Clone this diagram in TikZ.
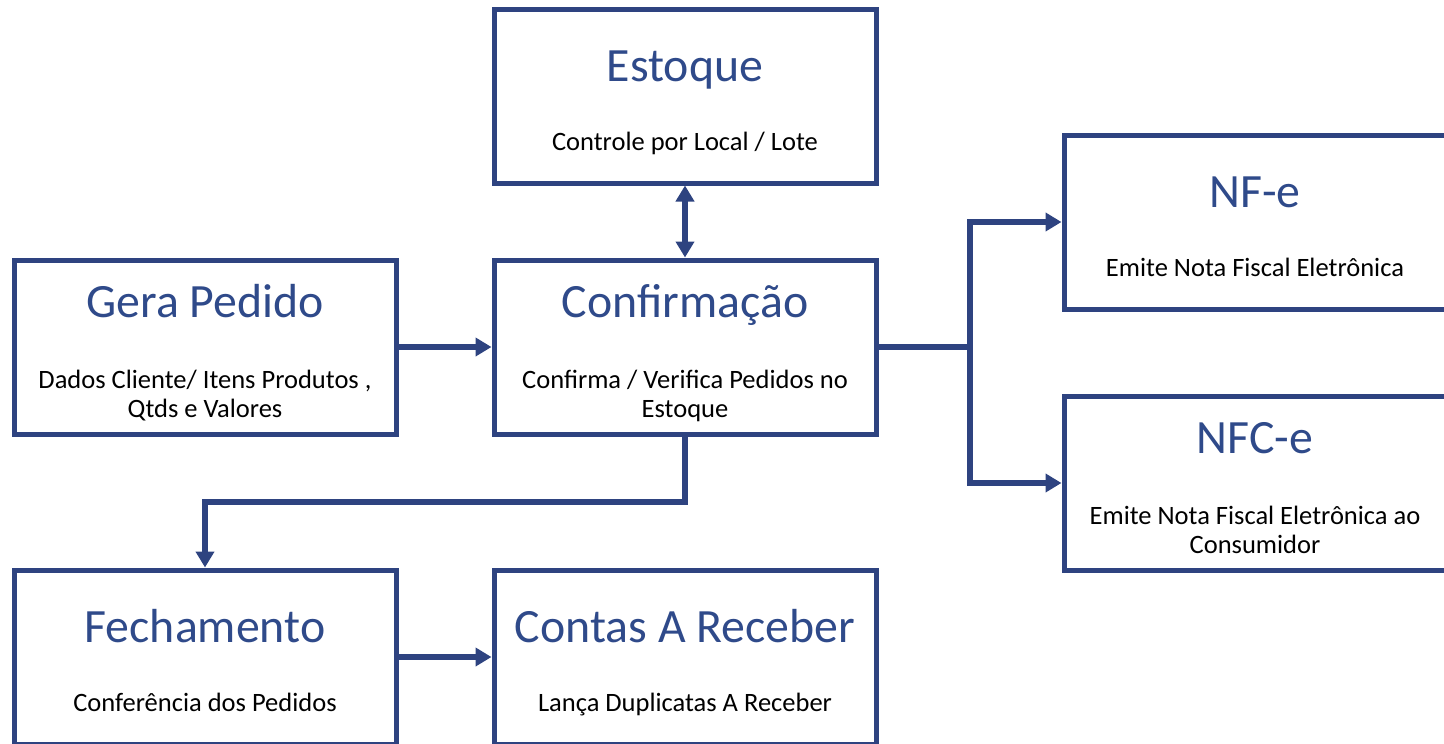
\documentclass[tikz,border=0pt]{standalone}
\usepackage{fontspec}
\setmainfont{Carlito}
\usetikzlibrary{arrows.meta,calc}
\definecolor{lineblue}{RGB}{46,67,128}
\definecolor{titleblue}{RGB}{47,74,138}
\begin{document}
\begin{tikzpicture}[x=1pt,y=-1pt,
  box/.style={draw=lineblue,line width=5pt,minimum width=382pt,minimum height=174pt,inner sep=0pt},
  ttl/.style={font=\fontsize{47.8}{56}\selectfont,text=titleblue,anchor=base,inner sep=0pt},
  sub/.style={font=\fontsize{26.5}{29}\selectfont,text=black,anchor=base,inner sep=0pt,align=center},
  conn/.style={draw=lineblue,line width=5.3pt},
  arr/.style={conn,-{Triangle[length=16pt,width=18pt]}},
  darr/.style={conn,{Triangle[length=16pt,width=18pt]}-{Triangle[length=16pt,width=18pt]}},
]
\useasboundingbox (0,0) rectangle (1444,744);
\clip (0,0) rectangle (1444,744);
% boxes
\node[box] (est)  at (685,96)   {};
\node[box] (gera) at (205,347)  {};
\node[box] (conf) at (685,347)  {};
\node[box] (nfe)  at (1255,222) {};
\node[box] (nfce) at (1255,483) {};
\node[box] (fech) at (205,657)  {};
\node[box] (cr)   at (685,657)  {};
% texts
\node[ttl] (estT) at (685,81) {Estoque};
\node[sub] (estS) at (685,150) {Controle por Local / Lote};
\node[ttl] (geraT) at (205,317) {Gera Pedido};
\node[sub] (geraS1) at (205,388) {Dados Cliente/ Itens Produtos ,};
\node[sub] (geraS2) at (205,417) {Qtds e Valores};
\node[ttl] (confT) at (685,317) {Confirmação};
\node[sub] (confS1) at (685,388) {Confirma / Verifica Pedidos no};
\node[sub] (confS2) at (685,417) {Estoque};
\node[ttl] (nfeT) at (1255,207) {NF-e};
\node[sub] (nfeS) at (1255,276) {Emite Nota Fiscal Eletrônica};
\node[ttl] (nfceT) at (1255,453) {NFC-e};
\node[sub] (nfceS1) at (1255,524) {Emite Nota Fiscal Eletrônica ao};
\node[sub] (nfceS2) at (1255,553) {Consumidor};
\node[ttl] (fechT) at (205,642) {Fechamento};
\node[sub] (fechS) at (205,711) {Conferência dos Pedidos};
\node[ttl] (crT) at (685,642) {Contas A Receber};
\node[sub] (crS) at (685,711) {Lança Duplicatas A Receber};
% connectors
\coordinate (j) at (970,347);
\coordinate (k) at (685,502);
\draw[arr] (gera.east) -- (conf.west);
\draw[darr] (est.south) -- (conf.north);
\draw[conn] (conf.east) -- (j);
\draw[arr] (j) |- (nfe.west);
\draw[arr] (j) |- (nfce.west);
\draw[arr] (conf.south) -- (k) -| (fech.north);
\draw[arr] (fech.east) -- (cr.west);
\end{tikzpicture}
\end{document}
